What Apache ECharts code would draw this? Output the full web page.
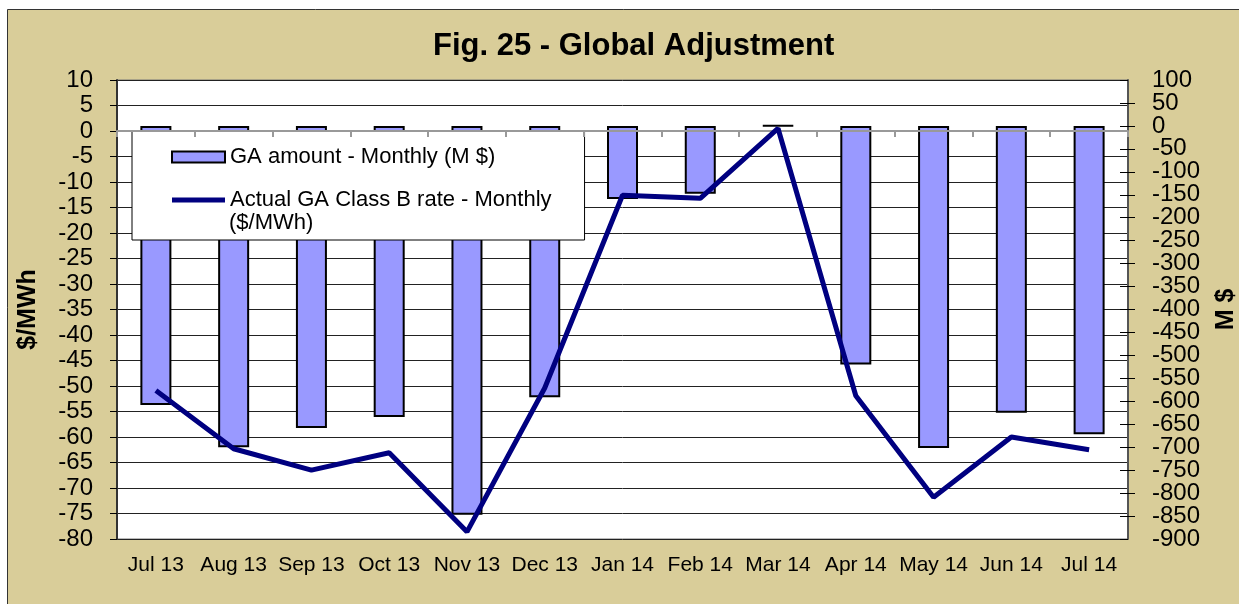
<!DOCTYPE html>
<html>
<head>
<meta charset="utf-8">
<script src="https://cdn.jsdelivr.net/npm/echarts@6/dist/echarts.min.js"></script>
<style>
    html, body { margin: 0; padding: 0; background: #fff; }
    #chart { width: 1239px; height: 604px; }
</style>
</head>
<body>
<div id="chart"></div>
<script>
// months on the x axis
var months = ['Jul 13', 'Aug 13', 'Sep 13', 'Oct 13', 'Nov 13', 'Dec 13', 'Jan 14',
    'Feb 14', 'Mar 14', 'Apr 14', 'May 14', 'Jun 14', 'Jul 14'];

// GA amount - Monthly (M $), right axis
var gaAmount = [-608, -700, -658, -634, -847, -591, -159, -148, 1, -520, -702, -625, -672];

// Actual GA Class B rate - Monthly ($/MWh), left axis
var classBRate = [-50.9, -62.3, -66.5, -63.1, -78.6, -50.4, -12.6, -13.2, 0.5, -51.9, -71.8, -60.0, -62.5];

var rateAxis = { min: -80, max: 10, interval: 5 };
var amountAxis = { min: -900, max: 100, interval: 50 };

var barName = 'GA amount - Monthly (M $)';
var lineName = 'Actual GA Class B rate - Monthly ($/MWh)';

var FONT = '"Liberation Sans", Arial, sans-serif';

var chart = echarts.init(document.getElementById('chart'));

function tickLabel(extra) {
    return Object.assign({
        fontFamily: FONT, fontSize: 24, lineHeight: 18, color: '#000', margin: 24,
        hideOverlap: false
    }, extra || {});
}

var option = {
    backgroundColor: '#fff',
    animation: false,
    textStyle: { fontFamily: FONT, color: '#000' },
    title: {
        text: 'Fig. 25 - Global Adjustment',
        left: 428,
        top: 26,
        textStyle: { fontFamily: FONT, fontSize: 31, fontWeight: 'bold', color: '#000' }
    },
    graphic: [
        {
            type: 'rect',
            z: -100,
            shape: { x: 7.5, y: 9.5, width: 1260, height: 620 },
            style: { fill: '#d9cd99', stroke: '#333', lineWidth: 1 }
        },
        {
            type: 'text',
            z: 100,
            left: 229,
            top: 212,
            style: { text: '($/MWh)', fontFamily: FONT, fontSize: 22, fill: '#000' }
        }
    ],
    legend: {
        orient: 'vertical',
        left: 132,
        top: 131,
        padding: [15, 33, 29, 39],
        itemGap: 21,
        itemWidth: 53,
        itemHeight: 11,
        backgroundColor: '#fff',
        borderColor: '#000',
        borderWidth: 1,
        borderRadius: 0,
        textStyle: { fontFamily: FONT, fontSize: 22, color: '#000' },
        formatter: function (name) {
            return name === lineName ? 'Actual GA Class B rate - Monthly' : name;
        },
        data: [
            { name: barName, icon: 'rect' },
            { name: lineName, icon: 'path://M0,0 H100 V9 H0 Z' }
        ]
    },
    grid: {
        left: 117,
        right: 111,
        top: 80,
        bottom: 65,
        containLabel: false,
        outerBoundsMode: 'none',
        show: true,
        backgroundColor: '#fff',
        borderColor: '#777',
        borderWidth: 1
    },
    xAxis: [
        {
            type: 'category',
            data: months,
            position: 'bottom',
            axisLine: { onZero: false, show: false },
            axisTick: { show: false },
            axisLabel: { fontFamily: FONT, fontSize: 21, color: '#000', margin: 16, interval: 0 },
            splitLine: { show: false }
        },
        {
            type: 'category',
            data: months,
            position: 'bottom',
            z: 5,
            axisLine: { onZero: true, onZeroAxisIndex: 0, lineStyle: { color: '#999', width: 2 } },
            axisTick: { show: true, length: 6, lineStyle: { color: '#999', width: 2 } },
            axisLabel: { show: false },
            splitLine: { show: false }
        }
    ],
    yAxis: [
        {
            type: 'value',
            position: 'left',
            min: rateAxis.min,
            max: rateAxis.max,
            interval: rateAxis.interval,
            name: '$/MWh',
            nameLocation: 'middle',
            nameRotate: 90,
            nameGap: 76,
            nameTextStyle: { fontFamily: FONT, fontSize: 25, fontWeight: 'bold', color: '#000' },
            axisLine: { show: true, lineStyle: { color: '#333', width: 2 } },
            axisTick: { show: true, length: 7, lineStyle: { color: '#000' } },
            axisLabel: tickLabel({ showMinLabel: true, showMaxLabel: true }),
            splitLine: { show: true, lineStyle: { color: '#222', width: 1 } }
        },
        {
            type: 'value',
            position: 'right',
            min: amountAxis.min,
            max: amountAxis.max,
            interval: amountAxis.interval,
            name: 'M $',
            nameLocation: 'middle',
            nameRotate: 90,
            nameGap: 86,
            nameTextStyle: { fontFamily: FONT, fontSize: 25, fontWeight: 'bold', color: '#000' },
            axisLine: { show: true, lineStyle: { color: '#555', width: 2 } },
            axisTick: { show: true, length: 7, lineStyle: { color: '#000' } },
            axisLabel: tickLabel({ showMinLabel: false, showMaxLabel: false }),
            splitLine: { show: false }
        },
        {
            // inner half of the right axis ticks, plus the end labels
            type: 'value',
            position: 'right',
            min: amountAxis.min,
            max: amountAxis.max,
            interval: amountAxis.interval,
            axisLine: { show: false },
            axisTick: { show: true, inside: true, length: 8, lineStyle: { color: '#000' } },
            axisLabel: tickLabel({
                showMinLabel: true,
                showMaxLabel: true,
                formatter: function (v) {
                    return (v === amountAxis.min || v === amountAxis.max) ? String(v) : '';
                }
            }),
            splitLine: { show: false }
        }
    ],
    series: [
        {
            name: barName,
            type: 'bar',
            xAxisIndex: 0,
            yAxisIndex: 1,
            data: gaAmount,
            barWidth: 31,
            itemStyle: { color: '#9999ff', borderColor: '#000', borderWidth: 2 }
        },
        {
            name: lineName,
            type: 'line',
            xAxisIndex: 0,
            yAxisIndex: 0,
            data: classBRate,
            symbol: 'none',
            z: 6,
            lineStyle: { color: '#000080', width: 5 },
            itemStyle: { color: '#000080' }
        }
    ]
};

chart.setOption(option);
</script>
</body>
</html>
